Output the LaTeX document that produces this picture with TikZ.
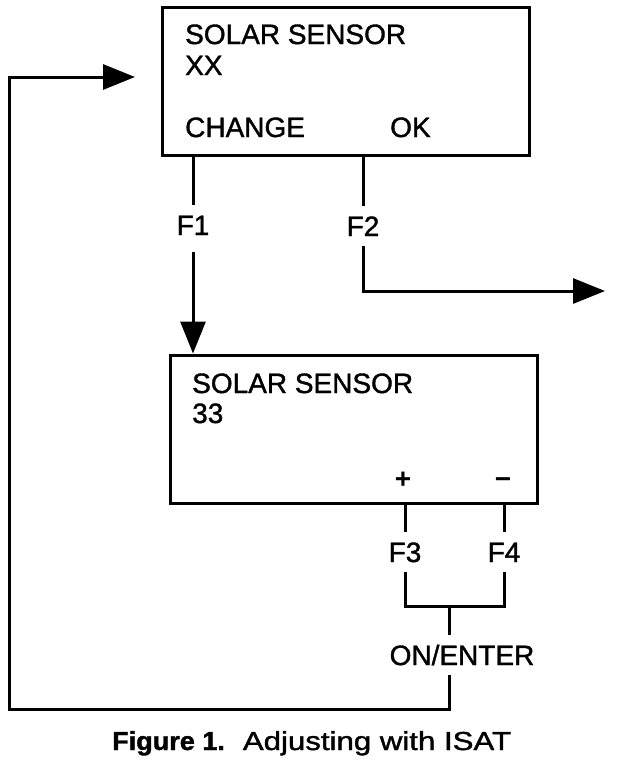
\documentclass[tikz,border=0pt]{standalone}
\usepackage{fontspec}
\setmainfont{Liberation Sans}
\newfontfamily\lblfont{Liberation Sans}[FakeBold=1.3]
\usepackage{graphicx}
\usetikzlibrary{arrows.meta}
\begin{document}
\begin{tikzpicture}[x=1pt,y=-1pt,
  every node/.style={font=\fontsize{28}{30}\lblfont},
  box/.style={draw, line width=3pt, minimum width=367pt, minimum height=148pt, inner sep=0pt},
  lbl/.style={anchor=base, inner xsep=2pt, inner ysep=10pt, text height=20pt, text depth=0pt},
  txt/.style={anchor=base west, inner sep=0pt},
  key/.style={anchor=base, inner sep=0pt, font=\fontsize{28}{30}\selectfont\bfseries},
  wire/.style={line width=3pt},
  arr/.style={wire, -{Triangle[length=32pt,width=25pt]}}
]
\useasboundingbox (0,0) rectangle (624,766);
% boxes
\node[box] (b1) at (345.5,81) {};
\node[txt] (b1l1) at (185,44) {SOLAR SENSOR};
\node[txt] (b1l2) at (185,75) {XX};
\node[txt] (b1l3) at (185,137) {CHANGE};
\node[txt] (b1l4) at (390,137) {OK};
\node[box] (b2) at (353.5,429) {};
\node[txt] (b2l1) at (192,393) {SOLAR SENSOR};
\node[txt] (b2l2) at (192,423) {33};
\node[key] (plus) at (403,488) {+};
\node[key] (minus) at (503,488) {−};
% key labels
\node[lbl] (f1) at (193,235) {F1};
\node[lbl] (f2) at (363,236) {F2};
\node[lbl] (f3) at (405,562) {F3};
\node[lbl] (f4) at (504,562) {F4};
\node[lbl] (on) at (462,665) {ON/ENTER};
\coordinate (join) at (449,606);
\coordinate (f2end) at (605,291);
\coordinate (lb) at (9,709);
\coordinate (lt) at (9,77);
\coordinate (loopend) at (135,77);
% connectors
\draw[wire] (b1.south -| f1) -- (f1.north);
\draw[arr] ([yshift=-7pt]f1.south) -- (b2.north -| f1);
\draw[wire] (b1.south -| f2) -- (f2.north);
\draw[arr] (f2.south) |- (f2end);
\draw[wire] (b2.south -| f3) -- (f3.north);
\draw[wire] (b2.south -| f4) -- (f4.north);
\draw[wire] (f3.south) |- (join) -| (f4.south);
\draw[wire] (join) -- (join |- on.north);
\draw[arr] (on.south -| join) |- (lb) -- (lt) -- (loopend);
% caption
\node[anchor=base west, inner sep=0pt, font=\fontsize{26}{28}\lblfont] (cap) at (112,750)
  {\scalebox{1.04}[1]{\fontseries{b}\selectfont Figure 1.}\hspace{18pt}\scalebox{1.2}[1]{Adjusting with ISAT}};
\end{tikzpicture}
\end{document}
